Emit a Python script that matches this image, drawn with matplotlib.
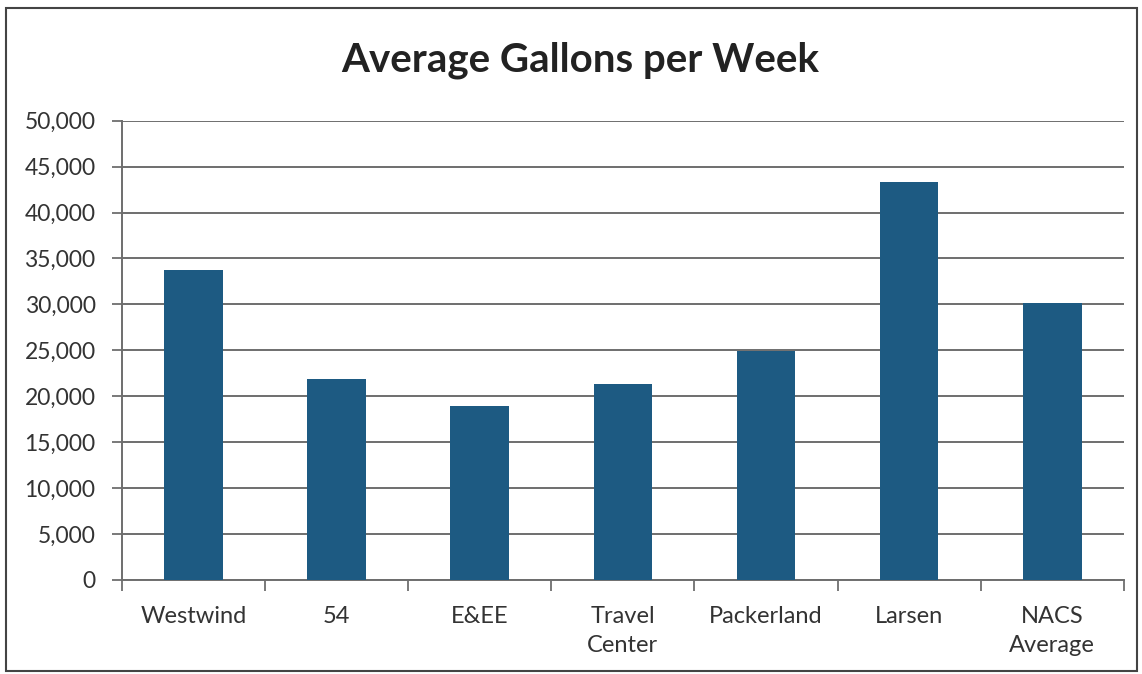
import numpy as np
import matplotlib.pyplot as plt
from matplotlib.ticker import FuncFormatter, FixedLocator
import matplotlib.patches as mpatches

plt.rcParams["font.family"] = ["Lato", "DejaVu Sans"]

# data
sites = ["Westwind", "54", "E&EE", "Travel\nCenter", "Packerland", "Larsen", "NACS\nAverage"]
gallons = [33700, 21900, 18900, 21300, 24900, 43300, 30200]
y_ticks = np.arange(0, 50001, 5000)

_bar_color = "#1d5a82"
_grid_color = "#6e6e6e"
_text_color = "#333333"


def format_y_ticks(value, _):
    return f"{int(value):,}"


fig = plt.figure(figsize=(11.42, 6.74), dpi=100)
ax = fig.add_axes([0.1068, 0.1395, 0.8772, 0.6815])

_x = np.arange(len(sites))
ax.bar(_x, gallons, width=0.41, color=_bar_color, zorder=3)

ax.set_xlim(-0.5, len(sites) - 0.5)
ax.set_ylim(0, 50000)

ax.yaxis.set_major_locator(FixedLocator(y_ticks))
ax.yaxis.set_major_formatter(FuncFormatter(format_y_ticks))
ax.grid(which="major", axis="y", color=_grid_color, linewidth=1.4, zorder=0)

# category boundaries get the tick marks, centres get the labels
ax.xaxis.set_major_locator(FixedLocator(np.arange(-0.5, len(sites), 1.0)))
ax.xaxis.set_major_formatter(FuncFormatter(lambda v, _: ""))
ax.xaxis.set_minor_locator(FixedLocator(_x))
ax.set_xticklabels(sites, minor=True)
ax.tick_params(axis="x", which="major", length=8, width=1.3, color=_grid_color)
ax.tick_params(axis="x", which="minor", length=0, pad=19, labelsize=17, labelcolor=_text_color)
ax.tick_params(axis="y", length=7, width=1.3, color=_grid_color, pad=12, labelsize=16.5, labelcolor=_text_color)
for _lbl in ax.xaxis.get_minorticklabels():
    _lbl.set_linespacing(1.45)

for _side in ["top", "right"]:
    ax.spines[_side].set_visible(False)
for _side in ["left", "bottom"]:
    ax.spines[_side].set_color(_grid_color)
    ax.spines[_side].set_linewidth(1.4)

fig.text(0.508, 0.911, "Average Gallons per Week", ha="center", va="center",
         fontsize=29, fontweight="bold", color="#222222")

# outer chart border
fig.patches.append(mpatches.Rectangle((0.005, 0.004), 0.991, 0.984, transform=fig.transFigure,
                                      fill=False, edgecolor="#444444", linewidth=1.5))

fig.savefig("out.png", dpi=100)
